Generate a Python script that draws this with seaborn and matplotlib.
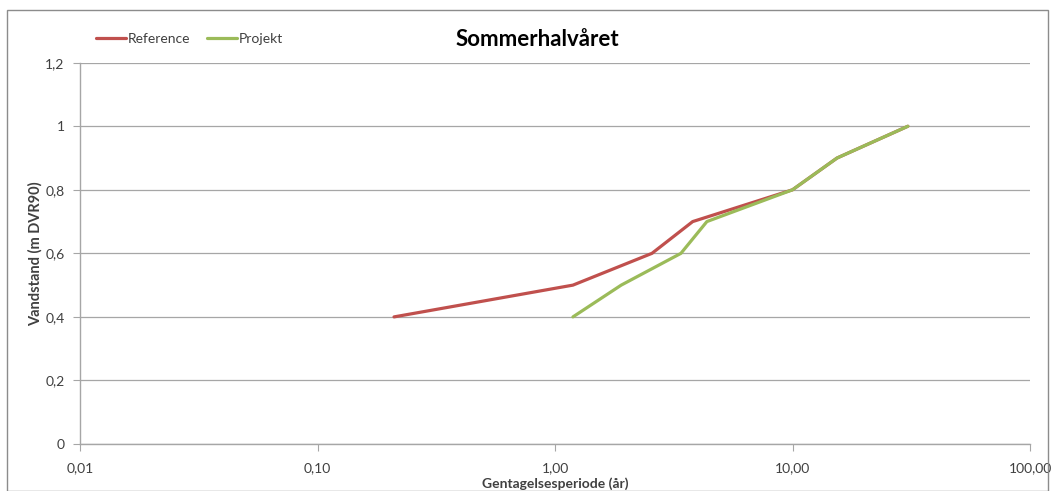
import matplotlib
matplotlib.use("Agg")
import matplotlib.pyplot as plt
import matplotlib.ticker as mticker
import seaborn as sns
import pandas as pd
from matplotlib.patches import Rectangle

# Data
levels = [0.4, 0.5, 0.6, 0.7, 0.8, 0.9, 1.0]
reference_period = [0.21, 1.19, 2.56, 3.8, 10.0, 15.4, 30.6]
projekt_period = [1.19, 1.9, 3.39, 4.36, 10.0, 15.4, 30.6]
series_names = ["Reference", "Projekt"]
x_ticks = [0.01, 0.1, 1, 10, 100]
x_tick_labels = ["0,01", "0,10", "1,00", "10,00", "100,00"]
y_ticks = [0, 0.2, 0.4, 0.6, 0.8, 1.0, 1.2]
y_tick_labels = ["0", "0,2", "0,4", "0,6", "0,8", "1", "1,2"]

df = pd.concat([
    pd.DataFrame({"periode": reference_period, "vandstand": levels, "serie": series_names[0]}),
    pd.DataFrame({"periode": projekt_period, "vandstand": levels, "serie": series_names[1]}),
])

sns.set_style("white")
plt.rcParams["font.family"] = ["Lato", "DejaVu Sans"]

fig = plt.figure(figsize=(10.55, 4.91), dpi=100)
ax = fig.add_axes([80 / 1055, 1 - 444 / 491, 950 / 1055, (444 - 62.7) / 491])

palette = {"Reference": "#C0504D", "Projekt": "#9BBB59"}
sns.lineplot(data=df, x="periode", y="vandstand", hue="serie", palette=palette,
             sort=False, estimator=None, linewidth=2.3, ax=ax, legend=True)

ax.set_xscale("log")
ax.set_xlim(0.01, 100)
ax.set_ylim(0, 1.2)
ax.xaxis.set_major_locator(mticker.FixedLocator(x_ticks))
ax.xaxis.set_minor_locator(mticker.NullLocator())
ax.set_xticks(x_ticks)
ax.set_xticklabels(x_tick_labels)
ax.set_yticks(y_ticks)
ax.set_yticklabels(y_tick_labels)
ax.tick_params(axis="both", which="major", labelsize=10, colors="#404040",
               length=5, width=0.8, direction="out", left=True, bottom=True)
ax.tick_params(axis="x", pad=8, color="#a6a6a6")
ax.tick_params(axis="y", pad=6, color="#a6a6a6")

ax.yaxis.grid(True, color="#a6a6a6", linewidth=0.9)
ax.xaxis.grid(False)
for s in ["top", "right"]:
    ax.spines[s].set_visible(False)
for s in ["left", "bottom"]:
    ax.spines[s].set_color("#a6a6a6")
    ax.spines[s].set_linewidth(1.0)

ax.set_xlabel("Gentagelsesperiode (år)", fontsize=10, fontweight="bold", color="#404040", labelpad=2)
ax.set_ylabel("Vandstand (m DVR90)", fontsize=10.5, fontweight="bold", color="#404040", labelpad=2)

fig.text(537 / 1055, 1 - 40 / 491, "Sommerhalvåret", ha="center", va="center",
         fontsize=16, fontweight="bold", color="black")

leg = ax.legend(loc="upper left", bbox_to_anchor=(90 / 1055, 1 - 27 / 491),
                bbox_transform=fig.transFigure, ncol=2, frameon=False, fontsize=10,
                handlelength=2.2, handletextpad=0.1, columnspacing=1.2, borderaxespad=0)
for t in leg.get_texts():
    t.set_color("#404040")

fig.patches.append(Rectangle((7 / 1055, 0.0), 1041 / 1055, 1 - 10 / 491,
                             transform=fig.transFigure, fill=False,
                             edgecolor="#8c8c8c", linewidth=1.0))

fig.savefig("out.png", dpi=100)
